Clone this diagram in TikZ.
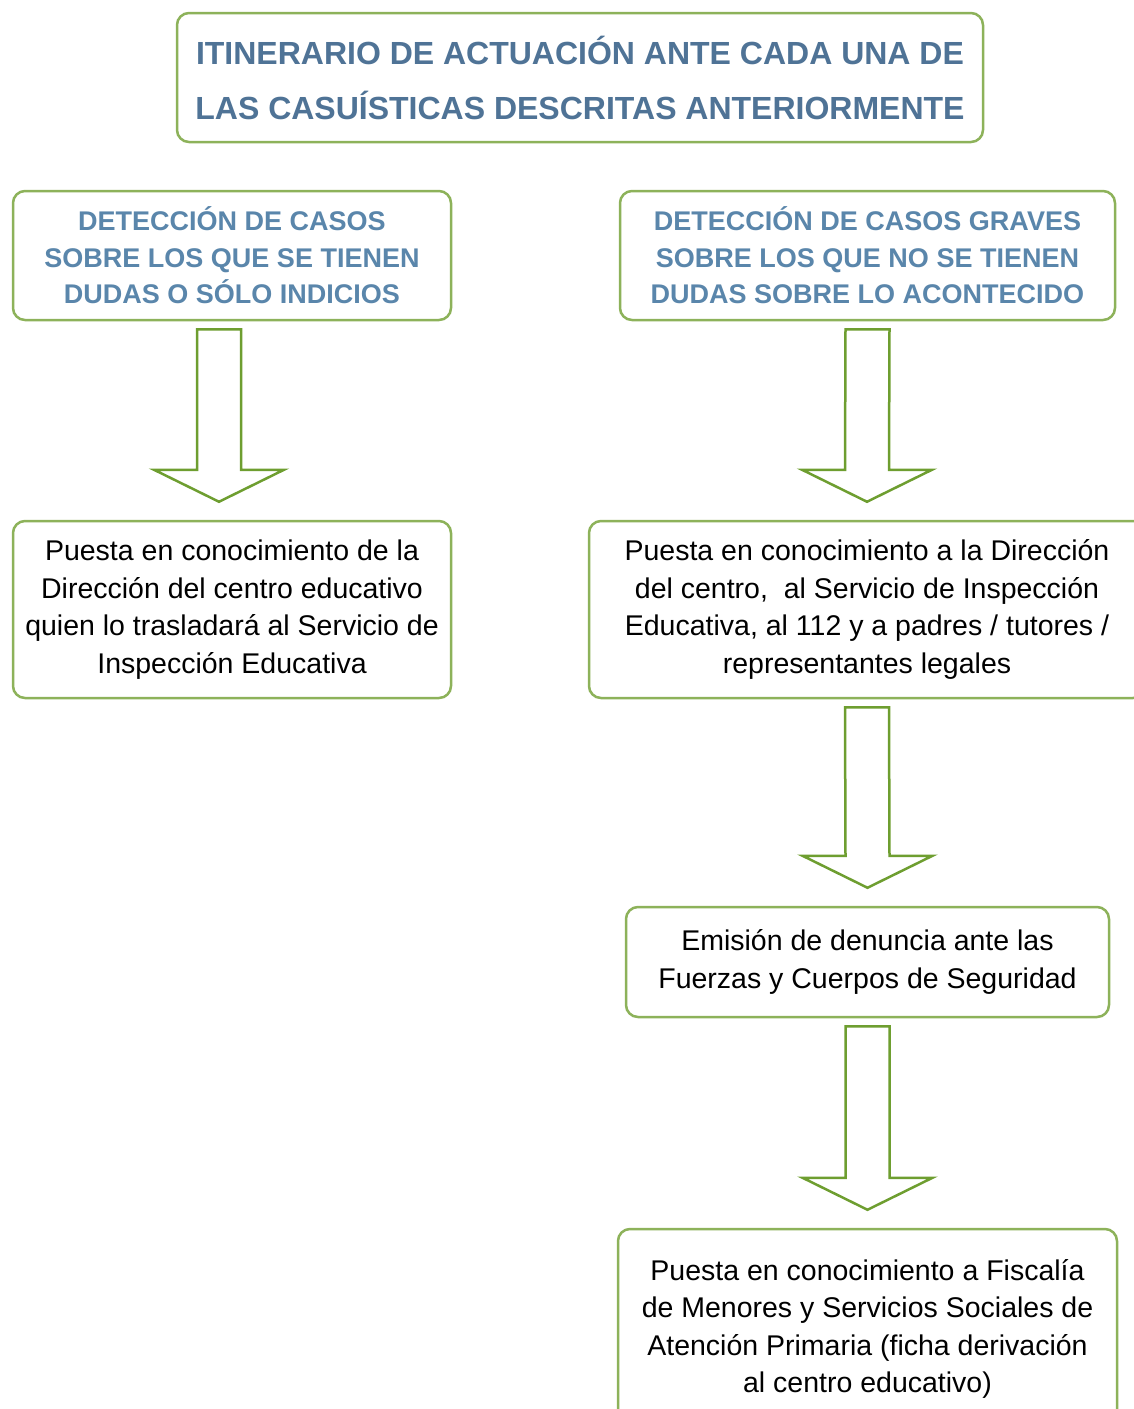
\documentclass[tikz,border=0pt]{standalone}
\usepackage{fontspec}
\setmainfont{Liberation Sans}
\usepackage{tikz}
\usetikzlibrary{calc}
\definecolor{boxgreen}{HTML}{8DB25A}
\definecolor{arrowgreen}{HTML}{6E9E30}
\definecolor{titleblue}{HTML}{4F7396}
\definecolor{headblue}{HTML}{5A86AB}
\tikzset{
  titlebox/.style={draw=boxgreen,line width=2.5pt,rounded corners=12pt,fill=white,align=center,
    text=titleblue,font=\fontsize{32}{55}\selectfont\bfseries},
  casebox/.style={draw=boxgreen,line width=2.5pt,rounded corners=12pt,fill=white,align=center,
    text=headblue,font=\fontsize{27}{36.5}\selectfont\bfseries},
  stepbox/.style={draw=boxgreen,line width=2.5pt,rounded corners=12pt,fill=white,align=center,
    text=black,font=\fontsize{28.5}{37.5}\selectfont},
  blockarrow/.style={draw=arrowgreen,line width=2.5pt,line join=miter,fill=white}
}
\newcommand{\bigarrow}[3]{\draw[blockarrow] ($(#1.south)+(#3-22,8)$) -- ($(#1.south)+(#3+22,8)$)
  -- ($(#2.north)+(#3+22,-50)$) -- ($(#2.north)+(#3+65,-50)$) -- ($(#2.north)+(#3,-18)$)
  -- ($(#2.north)+(#3-65,-50)$) -- ($(#2.north)+(#3-22,-50)$) -- cycle;}
\begin{document}
\begin{tikzpicture}[x=1pt,y=-1pt]
    \useasboundingbox (0,0) rectangle (1134,1409);
    \clip (0,0) rectangle (1134,1409);

    \node[titlebox,minimum width=806pt,minimum height=129pt] (title) at (580,77.5)
      {ITINERARIO DE ACTUACIÓN ANTE CADA UNA DE\\LAS CASUÍSTICAS DESCRITAS ANTERIORMENTE};

    \node[casebox,minimum width=438pt,minimum height=129pt] (dudas) at (232,255.5)
      {DETECCIÓN DE CASOS\\SOBRE LOS QUE SE TIENEN\\DUDAS O SÓLO INDICIOS};
    \node[casebox,minimum width=495pt,minimum height=129pt] (graves) at (867.5,255.5)
      {DETECCIÓN DE CASOS GRAVES\\SOBRE LOS QUE NO SE TIENEN\\DUDAS SOBRE LO ACONTECIDO};

    \node[stepbox,minimum width=438pt,minimum height=177pt] (direccion) at (232,609.5)
      {Puesta en conocimiento de la\\Dirección del centro educativo\\quien lo trasladará al Servicio de\\Inspección Educativa};
    \node[stepbox,minimum width=556pt,minimum height=177pt] (aviso) at (867,609.5)
      {Puesta en conocimiento a la Dirección\\del centro,\ \ al Servicio de Inspección\\Educativa, al 112 y a padres / tutores /\\representantes legales};
    \node[stepbox,minimum width=483pt,minimum height=110pt] (denuncia) at (867.5,962)
      {Emisión de denuncia ante las\\Fuerzas y Cuerpos de Seguridad};
    \node[stepbox,minimum width=499pt,minimum height=200pt] (fiscalia) at (867.5,1329)
      {Puesta en conocimiento a Fiscalía\\de Menores y Servicios Sociales de\\Atención Primaria (ficha derivación\\al centro educativo)};

    \bigarrow{dudas}{direccion}{-13}
    \bigarrow{graves}{aviso}{0}
    \bigarrow{aviso}{denuncia}{0}
    \bigarrow{denuncia}{fiscalia}{0}
\end{tikzpicture}
\end{document}
